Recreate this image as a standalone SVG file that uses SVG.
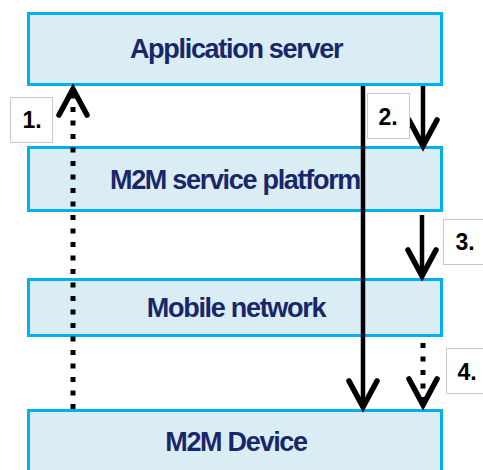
<svg xmlns="http://www.w3.org/2000/svg" width="483" height="470" viewBox="0 0 483 470">
<style>
.box{fill:#daedf4;stroke:#00b0f0;stroke-width:3}
.t{font-family:"Liberation Sans",Arial,sans-serif;font-weight:bold;font-size:27px;letter-spacing:-1.3px;fill:#17276a;text-anchor:middle}
.lb{fill:#ffffff;stroke:#c9c9c9;stroke-width:1}
.lt{font-family:"Liberation Sans",Arial,sans-serif;font-weight:bold;font-size:23px;fill:#000;text-anchor:middle}
.ln{fill:none;stroke:#000;stroke-width:4.5}
.dot{stroke-width:5;stroke-dasharray:5 8.5}
</style>
<defs>
<marker id="chev" markerUnits="userSpaceOnUse" orient="auto" refX="0" refY="0" overflow="visible">
<path d="M-26,-14 L0,0 L-26,14" fill="none" stroke="#000" stroke-width="5.5" stroke-linecap="round" stroke-linejoin="miter"/>
</marker>
</defs>
<g id="app-server"><rect class="box" x="28.5" y="13.5" width="413" height="71"/><text class="t" x="236" y="58">Application server</text></g>
<g id="m2m-platform"><rect class="box" x="28.5" y="147.5" width="413" height="63"/><text class="t" x="235" y="189">M2M service platform</text></g>
<g id="mobile-network"><rect class="box" x="28.5" y="279.5" width="413" height="56"/><text class="t" x="236" y="317">Mobile network</text></g>
<g id="m2m-device"><rect class="box" x="28.5" y="410.5" width="413" height="70"/><text class="t" x="236" y="451">M2M Device</text></g>
<g id="connectors">
<path class="ln dot" d="M73,409 L73,89" marker-end="url(#chev)"/>
<path class="ln" d="M363,86 L363,407" marker-end="url(#chev)"/>
<path class="ln" d="M423,86 L423,146" marker-end="url(#chev)"/>
<path class="ln" d="M422,215 L422,276" marker-end="url(#chev)"/>
<path class="ln dot" d="M423,343 L423,405" marker-end="url(#chev)"/>
</g>
<g id="label-1"><rect class="lb" x="10.5" y="97.5" width="42" height="45"/><text class="lt" x="32" y="128">1.</text></g>
<g id="label-2"><rect class="lb" x="367.5" y="93.5" width="42" height="45"/><text class="lt" x="388" y="125">2.</text></g>
<g id="label-3"><rect class="lb" x="443.5" y="219.5" width="45" height="45"/><text class="lt" x="465" y="250">3.</text></g>
<g id="label-4"><rect class="lb" x="446.5" y="348.5" width="45" height="45"/><text class="lt" x="467" y="380">4.</text></g>
</svg>
